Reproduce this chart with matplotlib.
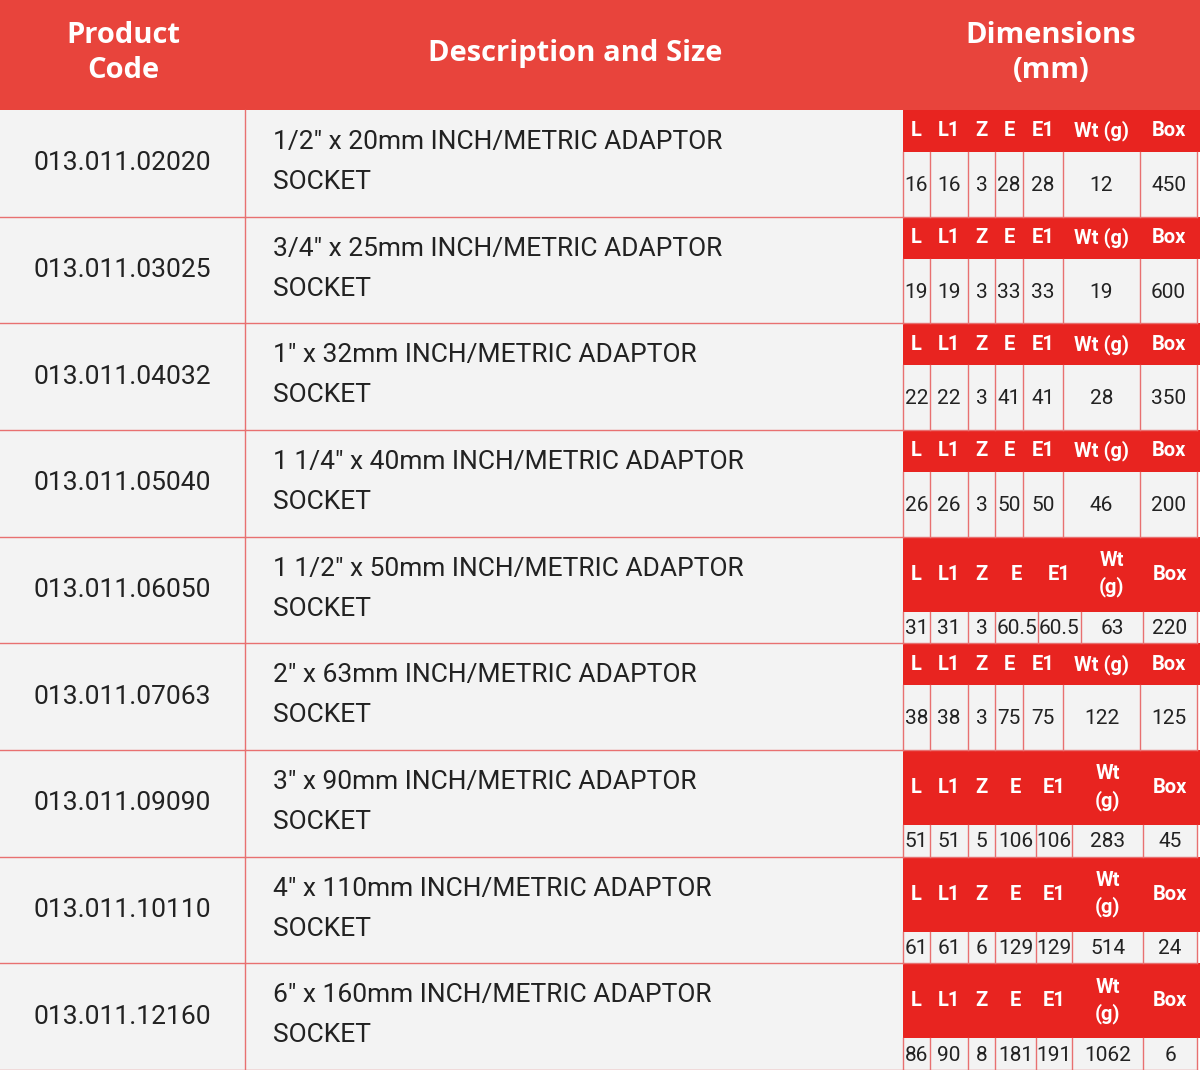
import matplotlib
matplotlib.use("Agg")
import matplotlib.pyplot as plt
from matplotlib.patches import Rectangle

codes = ["013.011.02020","013.011.03025","013.011.04032","013.011.05040","013.011.06050",
         "013.011.07063","013.011.09090","013.011.10110","013.011.12160"]
sizes = ['1/2" x 20mm','3/4" x 25mm','1" x 32mm','1 1/4" x 40mm','1 1/2" x 50mm',
         '2" x 63mm','3" x 90mm','4" x 110mm','6" x 160mm']
L  = ["16","19","22","26","31","38","51","61","86"]
L1 = ["16","19","22","26","31","38","51","61","90"]
Z  = ["3","3","3","3","3","3","5","6","8"]
E  = ["28","33","41","50","60.5","75","106","129","181"]
E1 = ["28","33","41","50","60.5","75","106","129","191"]
Wt = ["12","19","28","46","63","122","283","514","1062"]
Box= ["450","600","350","200","220","125","45","24","6"]
sub_headers = ["L","L1","Z","E","E1","Wt (g)","Box"]

W, H = 1200, 1070
fig = plt.figure(figsize=(12, 10.7), dpi=100)
ax = fig.add_axes([0, 0, 1, 1])
ax.set_xlim(0, W); ax.set_ylim(H, 0); ax.axis("off")

RED = "#e8443c"; SUBRED = "#e82420"; BG = "#f3f3f3"; LINE = "#e87070"
FONT = "Roboto"

ax.add_patch(Rectangle((0, 0), W, 110, color=RED, lw=0))
hk = dict(color="white", fontweight="bold", fontsize=21, family="Open Sans", ha="center", va="center")
ax.text(123, 53, "Product\nCode", linespacing=1.3, **hk)
ax.text(575, 53, "Description and Size", **hk)
ax.text(1051, 53, "Dimensions\n(mm)", linespacing=1.3, **hk)

row_h = (H - 110) / 9
edges_norm = [903, 930, 968, 995, 1023, 1063, 1140, 1197]
edges_605 = [903, 930, 968, 995, 1038, 1081, 1143, 1197]
edges_3d = [903, 930, 968, 995, 1036, 1072, 1143, 1197]

for i in range(9):
    y0 = 110 + i * row_h
    y1 = y0 + row_h
    ax.add_patch(Rectangle((0, y0), 903, row_h, facecolor=BG, edgecolor="none"))
    ax.plot([0, 903], [y1, y1], color=LINE, lw=1)
    ax.plot([245, 245], [y0, y1], color=LINE, lw=1)
    ax.text(122, (y0 + y1) / 2, codes[i], fontsize=19, family=FONT, color="#222222", ha="center", va="center")
    ax.text(273, y0 + 32, sizes[i] + " INCH/METRIC ADAPTOR", fontsize=19, family=FONT, color="#222222", va="center")
    ax.text(273, y0 + 72, "SOCKET", fontsize=19, family=FONT, color="#222222", va="center")

    vals = [L[i], L1[i], Z[i], E[i], E1[i], Wt[i], Box[i]]
    maxlen = max(len(E[i]), len(E1[i]))
    wide = maxlen >= 3
    edges = edges_605 if "." in E[i] else (edges_3d if wide else edges_norm)
    hh = 75 if wide else 42
    ax.add_patch(Rectangle((903, y0), W - 903, hh, facecolor=SUBRED, edgecolor="none"))
    ax.add_patch(Rectangle((903, y0 + hh), edges[-1] - 903, row_h - hh, facecolor=BG, edgecolor="none"))
    for j in range(7):
        xc = (edges[j] + edges[j + 1]) / 2
        lab = sub_headers[j]
        if wide and lab == "Wt (g)":
            lab = "Wt\n(g)"
        ax.text(xc, y0 + hh / 2, lab, color="white", fontweight="bold", fontsize=14.5,
                family=FONT, ha="center", va="center", linespacing=1.4)
        ax.text(xc, (y0 + hh + y1) / 2 + 1, vals[j], color="#222222", fontsize=15,
                family=FONT, ha="center", va="center")
    for x in edges:
        ax.plot([x, x], [y0 + hh, y1], color=LINE, lw=1)
    ax.plot([903, edges[-1]], [y1, y1], color=LINE, lw=1)

fig.savefig("out.png", dpi=100, facecolor="white")
